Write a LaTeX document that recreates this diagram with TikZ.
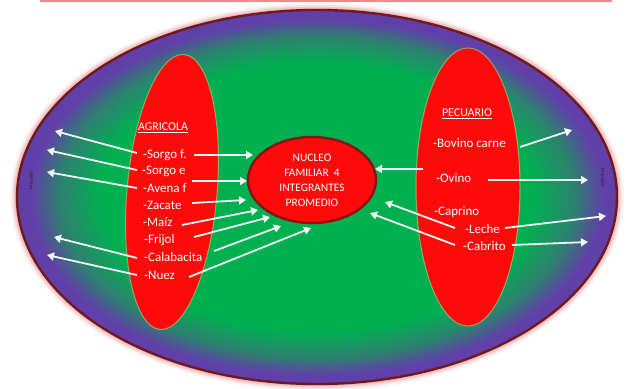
\documentclass[tikz,border=0pt]{standalone}
\usepackage{fontspec}
\setmainfont{Carlito}
\usetikzlibrary{arrows.meta,shapes.geometric}
\definecolor{bggreen}{HTML}{00B050}
\definecolor{bgpurple}{HTML}{6040A8}
\definecolor{bgteal}{HTML}{2E8070}
\definecolor{rimred}{HTML}{6E1A20}
\definecolor{glowpink}{HTML}{E8A0A0}
\definecolor{cellred}{HTML}{FF0A0A}
\definecolor{coreborder}{HTML}{8A1212}
\definecolor{arrowwhite}{HTML}{EEFBF2}
\definecolor{topline}{HTML}{F08A8A}
\pgfdeclareradialshading{outershade}{\pgfpoint{0bp}{0bp}}{%
  color(0bp)=(bggreen); color(18bp)=(bggreen); color(21.5bp)=(bgteal);
  color(23.8bp)=(bgpurple); color(25bp)=(bgpurple); color(50bp)=(bgpurple)}
\begin{document}
\begin{tikzpicture}[x=1bp,y=-1bp,
  txt/.style={text=white,font=\fontsize{13}{13}\selectfont,inner sep=0pt,anchor=west},
  head/.style={text=white,font=\fontsize{12}{12}\selectfont,inner sep=1pt},
  arr/.style={draw=arrowwhite,line width=1.8bp,-{Triangle[length=7bp,width=8bp]}},
  side/.style={text=black!85,font=\fontsize{5}{5}\selectfont,inner sep=0pt}]
\useasboundingbox[fill=white] (0,0) rectangle (630,388);
% top line
\draw[topline,line width=1.5bp] (40,0.8) -- (612,0.8);
% outer ellipse glow
\foreach \d/\o in {7/0.12,5/0.22,3.5/0.35,2/0.5}{
  \fill[glowpink,opacity=\o] (317,197) ellipse [x radius=300+\d, y radius=187+\d];}
\shade[shading=outershade] (317,197) ellipse [x radius=300, y radius=187];
\draw[rimred,line width=2.4bp] (317,197) ellipse [x radius=300, y radius=187];
% red cells
\fill[cellred] [rotate around={-5:(172,192)}] (172,192) ellipse [x radius=45, y radius=138];
\draw[green!40!white,opacity=0.5,line width=1bp] [rotate around={-5:(172,192)}] (172,192) ellipse [x radius=45, y radius=138];
\fill[cellred] (468,187) ellipse [x radius=52, y radius=139];
\draw[green!40!white,opacity=0.5,line width=1bp] (468,187) ellipse [x radius=52, y radius=139];
% core
\node[ellipse,draw=coreborder,line width=2.4bp,fill=cellred,minimum width=128bp,minimum height=86bp,inner sep=0pt] (core) at (312,180) {};
\node[text=white,font=\fontsize{11.5}{15}\selectfont,align=center,inner sep=0pt] (coretext) at (312,180) {NUCLEO\\FAMILIAR \ 4\\INTEGRANTES\\PROMEDIO};
% headers
\node[head] (agri) at (163,128) {\underline{AGRICOLA}};
\node[head] (pecu) at (467,114) {\underline{PECUARIO}};
% left items
\node[txt] (sf) at (143,155) {-Sorgo f.};
\node[txt] (se) at (142,171) {-Sorgo e};
\node[txt] (av) at (143,188) {-Avena f};
\node[txt] (za) at (143,205) {-Zacate};
\node[txt] (ma) at (143,222) {-Maíz};
\node[txt] (fr) at (144,240) {-Frijol};
\node[txt] (ca) at (144,257) {-Calabacita};
\node[txt] (nu) at (144,275) {-Nuez};
% right items
\node[txt] (bo) at (433,143) {-Bovino carne};
\node[txt] (ov) at (436,178) {-Ovino};
\node[txt] (cp) at (434,212) {-Caprino};
\node[txt] (le) at (465,229) {-Leche};
\node[txt] (cb) at (463,246) {-Cabrito};
% side labels
\node[side,rotate=90] (lside) at (31,180) {Mercado};
\node[side,rotate=-90] (rside) at (603,178) {Mercado};
% arrows
\foreach \n/\sx/\sy/\ex/\ey in {
  la/137/153/55/131, lb/137/170/47/150, lc/137/188/47/172, ld/137/258/54/237, le/137/275/47/255,
  ia/194/155/253/155, ib/192/181/247/181, ic/192/203/246/200, id/182/225/258/210,
  ie/194/237/270/217, if/214/251/281/226, ig/189/277/311/228,
  ra/423/169/375/169, rb/455/228/385/202, rc/455/245/370/213,
  oa/520/147/572/130, ob/488/180/588/180, oc/505/228/606/216, od/512/245/588/242}{
  \coordinate (\n s) at (\sx,\sy);
  \coordinate (\n e) at (\ex,\ey);
  \draw[arr] (\n s) -- (\n e);
}
\end{tikzpicture}
\end{document}
